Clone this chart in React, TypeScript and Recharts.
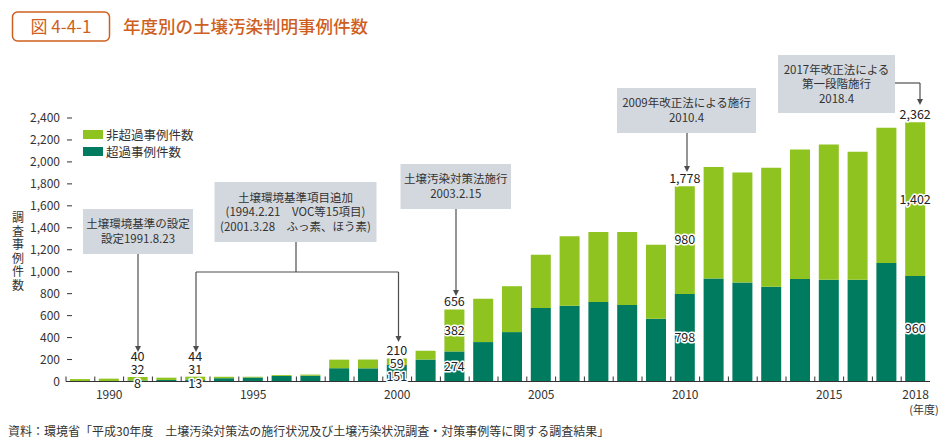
import React from 'react';
import { BarChart, Bar, XAxis, YAxis, Legend, LabelList } from 'recharts';

const YEARS = [
  '1989', '1990', '1991', '1992', '1993', '1994', '1995', '1996', '1997', '1998',
  '1999', '2000', '2001', '2002', '2003', '2004', '2005', '2006', '2007', '2008',
  '2009', '2010', '2011', '2012', '2013', '2014', '2015', '2016', '2017', '2018',
];

// 超過事例件数
const EXCEED = [
  3, 4, 8, 14, 13, 30, 36, 50, 53, 121,
  120, 151, 200, 274, 359, 450, 670, 691, 724, 697,
  572, 798, 938, 902, 863, 933, 926, 926, 1079, 960,
];

// 非超過事例件数
const NON_EXCEED = [
  19, 22, 32, 21, 31, 13, 8, 8, 10, 78,
  80, 59, 80, 382, 394, 418, 485, 632, 638, 665,
  674, 980, 1015, 1002, 1084, 1180, 1233, 1167, 1232, 1402,
];

const X_LABELS = ['1990', '1995', '2000', '2005', '2010', '2015', '2018'];
const Y_TICKS = [0, 200, 400, 600, 800, 1000, 1200, 1400, 1600, 1800, 2000, 2200, 2400];

// how the value labels are laid out on the few labelled bars
const LABEL_MODE: Record<string, 'column' | 'small' | 'inside'> = {
  '1991': 'column',
  '1993': 'column',
  '2000': 'small',
  '2002': 'inside',
  '2010': 'inside',
  '2018': 'inside',
};

const LIGHT = '#8fc31f';
const DARK = '#007b5f';
const ORANGE = '#cf5f1e';
const BOX = '#d3d8de';
const INK = '#333';
const LINE = '#4d4d4d';
const FONT = '"Noto Sans CJK JP", "Noto Sans", sans-serif';

const W = 948;
const H = 448;
const PLOT_LEFT = 66;
const PLOT_RIGHT = 18;

const data = YEARS.map((year, i) => ({ year, exceed: EXCEED[i], non: NON_EXCEED[i] }));

const fmt = (v: number) => v.toLocaleString('en-US');

const Halo = ({ x, y, children }: { x: number; y: number; children: React.ReactNode }) => (
  <text
    x={x}
    y={y}
    dy="0.35em"
    textAnchor="middle"
    fontSize={12.5}
    fill="#222"
    stroke="#fff"
    strokeWidth={3}
    strokeLinejoin="round"
    paintOrder="stroke"
  >
    {children}
  </text>
);

const ValueLabels = (props: any) => {
  const vb = props.viewBox && props.viewBox.width != null ? props.viewBox : props;
  const { x, y, width, height } = vb;
  const i = props.index;
  const mode = LABEL_MODE[YEARS[i]];
  if (!mode) return null;
  const non = NON_EXCEED[i];
  const ex = EXCEED[i];
  const darkH = (ex * height) / non;
  const base = y + height + darkH;
  const cx = x + width / 2;
  let t: number, n: number, e: number;
  if (mode === 'column') {
    t = base - 25;
    n = base - 11.5;
    e = base + 2.5;
  } else if (mode === 'small') {
    t = y - 7.5;
    n = y + 5.5;
    e = base - 5;
  } else {
    t = y - 8;
    n = y + height / 2;
    e = y + height + darkH / 2;
  }
  return (
    <g>
      <Halo x={cx} y={t}>{fmt(non + ex)}</Halo>
      <Halo x={cx} y={n}>{fmt(non)}</Halo>
      <Halo x={cx} y={e}>{fmt(ex)}</Halo>
    </g>
  );
};

const XTick = (props: any) => {
  const { x, y, payload } = props;
  const half =
    typeof payload.offset === 'number' && payload.offset > 0
      ? payload.offset
      : (W - PLOT_LEFT - PLOT_RIGHT) / YEARS.length / 2;
  return (
    <g>
      <line x1={x - half} x2={x - half} y1={y} y2={y - 5} stroke={INK} strokeWidth={1} />
      {X_LABELS.includes(payload.value) && (
        <text x={x} y={y + 13.5} dy="0.35em" textAnchor="middle" fontSize={12} fill={INK}>
          {payload.value}
        </text>
      )}
    </g>
  );
};

const YTick = (props: any) => {
  const { x, y, payload } = props;
  return (
    <g>
      <text x={x} y={y} dy="0.35em" textAnchor="end" fontSize={12} fill={INK}>
        {fmt(payload.value)}
      </text>
      <line x1={x + 7} x2={x + 12} y1={y} y2={y} stroke={INK} strokeWidth={1} />
    </g>
  );
};

const LegendBox = () => (
  <div style={{ fontFamily: FONT, fontSize: 12.5, color: INK }}>
    {[
      { c: LIGHT, t: '非超過事例件数' },
      { c: DARK, t: '超過事例件数' },
    ].map((r) => (
      <div key={r.t} style={{ display: 'flex', alignItems: 'center', height: 17 }}>
        <span style={{ display: 'inline-block', width: 20, height: 9, background: r.c, marginRight: 3 }} />
        <span>{r.t}</span>
      </div>
    ))}
  </div>
);

const Arrow = ({ x, y1, y2 }: { x: number; y1: number; y2: number }) => (
  <g>
    <line x1={x} x2={x} y1={y1} y2={y2 - 5} stroke={LINE} strokeWidth={1.2} />
    <polygon points={`${x - 3},${y2 - 6} ${x + 3},${y2 - 6} ${x},${y2}`} fill={LINE} />
  </g>
);

const Note = ({ x, y, w, h, lines }: { x: number; y: number; w: number; h: number; lines: string[] }) => {
  const step = 14.5;
  const first = y + h / 2 - ((lines.length - 1) * step) / 2;
  return (
    <g>
      <rect x={x} y={y} width={w} height={h} fill={BOX} />
      {lines.map((l, k) => (
        <text key={k} x={x + w / 2} y={first + k * step} dy="0.35em" textAnchor="middle" fontSize={11.5} fill={INK}>
          {l}
        </text>
      ))}
    </g>
  );
};

const Overlay = () => (
  <svg width={W} height={H} style={{ position: 'absolute', left: 0, top: 0, pointerEvents: 'none', fontFamily: FONT }}>
    {/* title */}
    <rect x={12.5} y={12} width={97} height={29} rx={5} fill="#fff" stroke={ORANGE} strokeWidth={1.5} />
    <text x={61} y={27} dy="0.35em" textAnchor="middle" fontSize={17} fill={ORANGE}>
      図 4-4-1
    </text>
    <text x={123} y={27} dy="0.35em" fontSize={17.5} fontWeight={500} fill={ORANGE}>
      年度別の土壌汚染判明事例件数
    </text>

    {/* y axis title, stacked characters */}
    {'調査事例件数'.split('').map((ch, k) => (
      <text key={k} x={18} y={218 + k * 13.5} dy="0.35em" textAnchor="middle" fontSize={12} fill={INK}>
        {ch}
      </text>
    ))}

    <text x={924} y={410} dy="0.35em" textAnchor="middle" fontSize={11} fill={INK}>
      (年度)
    </text>
    <text x={8} y={432} dy="0.35em" fontSize={12} fill={INK}>
      資料：環境省「平成30年度　土壌汚染対策法の施行状況及び土壌汚染状況調査・対策事例等に関する調査結果」
    </text>

    {/* annotations */}
    <Note x={83} y={209} w={110} h={45} lines={['土壌環境基準の設定', '設定1991.8.23']} />
    <Arrow x={138} y1={254} y2={352} />

    <Note
      x={214.5}
      y={182}
      w={162}
      h={60}
      lines={['土壌環境基準項目追加', '(1994.2.21　VOC等15項目)', '(2001.3.28　ふっ素、ほう素)']}
    />
    <line x1={296} x2={296} y1={242} y2={272} stroke={LINE} strokeWidth={1.2} />
    <line x1={196} x2={398.5} y1={272} y2={272} stroke={LINE} strokeWidth={1.2} />
    <Arrow x={196} y1={272} y2={352} />
    <Arrow x={398.5} y1={272} y2={342} />

    <Note x={400.5} y={164} w={110.5} h={45} lines={['土壌汚染対策法施行', '2003.2.15']} />
    <Arrow x={456} y1={209} y2={296} />

    <Note x={617} y={88} w={139} h={45} lines={['2009年改正法による施行', '2010.4']} />
    <Arrow x={687} y1={133} y2={172} />

    <Note x={778} y={55} w={117} h={58} lines={['2017年改正法による', '第一段階施行', '2018.4']} />
    <line x1={895} x2={920} y1={83} y2={83} stroke={LINE} strokeWidth={1.2} />
    <Arrow x={920} y1={83} y2={105} />
  </svg>
);

export default function App() {
  return (
    <div style={{ position: 'absolute', left: 0, top: 0, width: W, height: H, background: '#fff', fontFamily: FONT }}>
      <BarChart
        width={W}
        height={H}
        data={data}
        margin={{ top: 118, right: PLOT_RIGHT, bottom: 36.5, left: 0 }}
        barSize={20}
      >
        <XAxis
          dataKey="year"
          interval={0}
          height={30}
          tickSize={0}
          tickMargin={0}
          tickLine={false}
          axisLine={{ stroke: INK, strokeWidth: 1.2 }}
          tick={<XTick />}
        />
        <YAxis
          type="number"
          domain={[0, 2400]}
          ticks={Y_TICKS}
          interval={0}
          width={PLOT_LEFT}
          tickSize={0}
          tickMargin={6}
          axisLine={false}
          tickLine={false}
          tick={<YTick />}
        />
        <Legend
          layout="vertical"
          align="center"
          verticalAlign="middle"
          wrapperStyle={{ position: 'absolute', left: 83, top: 125.5, width: 'auto', height: 'auto' }}
          content={() => <LegendBox />}
        />
        <Bar dataKey="exceed" name="超過事例件数" stackId="a" fill={DARK} isAnimationActive={false} />
        <Bar dataKey="non" name="非超過事例件数" stackId="a" fill={LIGHT} isAnimationActive={false}>
          <LabelList dataKey="non" content={ValueLabels} />
        </Bar>
      </BarChart>
      <Overlay />
    </div>
  );
}
